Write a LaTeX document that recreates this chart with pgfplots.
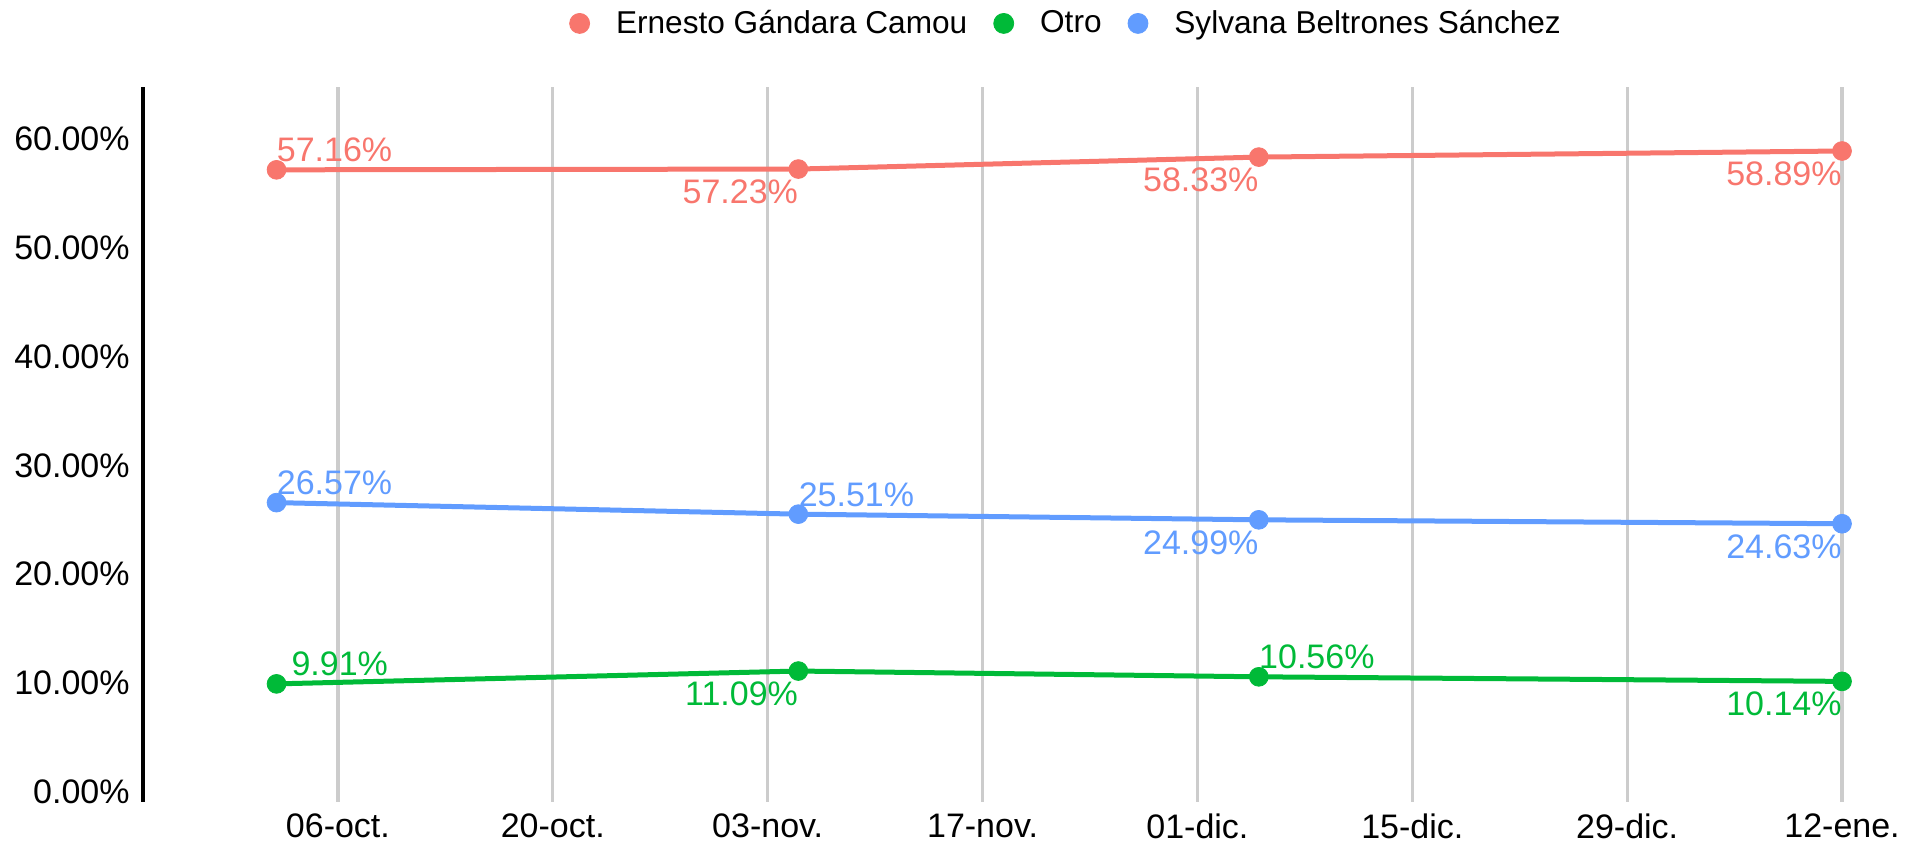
\documentclass[border=0pt]{standalone}
\usepackage{pgfplots}
\pgfplotsset{compat=1.18}
\usepackage{fontspec}
\setmainfont{Liberation Sans}
\definecolor{cRed}{HTML}{F8766D}
\definecolor{cGreen}{HTML}{00BA38}
\definecolor{cBlue}{HTML}{619CFF}
\definecolor{cGrid}{HTML}{CCCCCC}
\begin{document}
\begin{tikzpicture}
\begin{axis}[
  at={(71.5pt,20.65pt)}, anchor=south west,
  scale only axis, width=871pt, height=357.5pt,
  xmin=-12.7, xmax=100.8, ymin=-0.92, ymax=64.8,
  clip=false,
  separate axis lines,
  axis x line*=bottom, x axis line style={draw=none},
  axis y line*=left, y axis line style={line width=2.2pt, black},
  major tick length=0pt,
  xmajorgrids, major grid style={cGrid, line width=1.6pt},
  xtick={0,14,28,42,56,70,84,98},
  xticklabels={06-oct.,20-oct.,03-nov.,17-nov.,01-dic.,15-dic.,29-dic.,12-ene.},
  ytick={0,10,20,30,40,50,60},
  yticklabels={0.00\%,10.00\%,20.00\%,30.00\%,40.00\%,50.00\%,60.00\%},
  tick label style={font=\fontsize{17}{20}\selectfont, black, inner sep=0pt},
  xticklabel style={anchor=north, yshift=-6pt},
  yticklabel style={anchor=east, xshift=-6.5pt},
  legend columns=3,
  legend style={draw=none, fill=none, at={(0.5293,1.0885)}, anchor=center,
    font=\fontsize{15.8}{19}\selectfont, nodes={inner sep=0pt},
    /tikz/every odd column/.append style={column sep=13pt},
    /tikz/every even column/.append style={column sep=13pt}},
  lbl/.style={draw=none, mark=none, forget plot, nodes near coords,
    point meta=explicit symbolic,
    nodes near coords style={font=\fontsize{17}{20}\selectfont, inner sep=0pt, text=#1}},
  sw/.style={nodes near coords style={anchor=south west, yshift=3.6pt}},
  ne/.style={nodes near coords style={anchor=north east, yshift=-5.2pt}},
  ser/.style={#1, line width=2.5pt, mark=*, mark size=4.7pt, mark options={solid, line width=0.4pt}, forget plot},
]
% legend
\addlegendimage{legend image code/.code={\fill[cRed] (0pt,0pt) circle (5pt);}}
\addlegendentry{Ernesto Gándara Camou}
\addlegendimage{legend image code/.code={\fill[cGreen] (0pt,0pt) circle (5pt);}}
\addlegendentry{Otro}
\addlegendimage{legend image code/.code={\fill[cBlue] (0pt,0pt) circle (5pt);}}
\addlegendentry{Sylvana Beltrones Sánchez}

% Ernesto Gándara Camou
\addplot[ser=cRed] coordinates {(-4,57.16) (30,57.23) (60,58.33) (98,58.89)};
\addplot[lbl=cRed, sw] coordinates {(-4,57.16) [57.16\%]};
\addplot[lbl=cRed, ne] coordinates {(30,57.23) [57.23\%] (60,58.33) [58.33\%] (98,58.89) [58.89\%]};

% Otro
\addplot[ser=cGreen] coordinates {(-4,9.91) (30,11.09) (60,10.56) (98,10.14)};
\addplot[lbl=cGreen, sw, nodes near coords style={xshift=7.3pt}] coordinates {(-4,9.91) [9.91\%]};
\addplot[lbl=cGreen, sw] coordinates {(60,10.56) [10.56\%]};
\addplot[lbl=cGreen, ne] coordinates {(30,11.09) [11.09\%] (98,10.14) [10.14\%]};

% Sylvana Beltrones Sánchez
\addplot[ser=cBlue] coordinates {(-4,26.57) (30,25.51) (60,24.99) (98,24.63)};
\addplot[lbl=cBlue, sw] coordinates {(-4,26.57) [26.57\%] (30,25.51) [25.51\%]};
\addplot[lbl=cBlue, ne] coordinates {(60,24.99) [24.99\%] (98,24.63) [24.63\%]};
\end{axis}
\pgfresetboundingbox
\path[use as bounding box] (0,0) rectangle (953pt,421.5pt);
\end{tikzpicture}
\end{document}
